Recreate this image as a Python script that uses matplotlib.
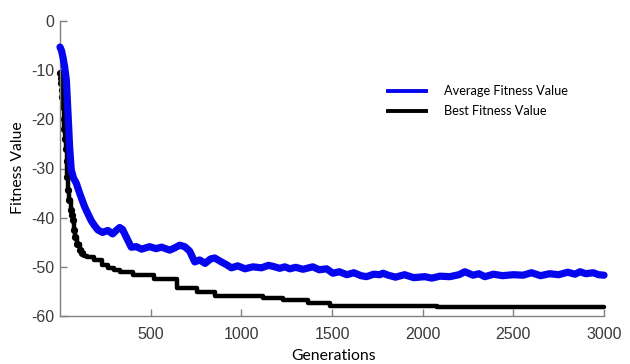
import matplotlib
matplotlib.use("Agg")
import matplotlib.pyplot as plt

# ---- data ----
avg_gen = [0, 8, 16, 25, 35, 44, 53, 62, 75, 90, 110, 136, 155, 172, 190, 209, 235, 264, 290, 310,
           329, 345, 366, 393, 421, 450, 494, 530, 560, 605, 630, 660, 688, 715, 743, 770, 800, 830,
           853, 890, 920, 945, 980, 1020, 1064, 1111, 1150, 1174, 1212, 1240, 1267, 1300, 1340,
           1394, 1430, 1470, 1505, 1540, 1582, 1620, 1660, 1690, 1730, 1764, 1781, 1810, 1850,
           1900, 1950, 2012, 2050, 2095, 2150, 2200, 2233, 2278, 2310, 2343, 2390, 2440, 2500,
           2554, 2600, 2650, 2700, 2750, 2800, 2840, 2868, 2900, 2940, 2970, 3000]
avg_val = [-5.3, -6.0, -7.3, -9.2, -12.0, -18.7, -25.6, -30.3, -32.0, -33.0, -35.2, -37.8, -39.3,
           -40.6, -41.6, -42.5, -43.0, -42.6, -43.3, -42.6, -42.0, -42.4, -44.0, -46.0, -45.9,
           -46.4, -45.9, -46.3, -46.0, -46.6, -46.2, -45.6, -45.9, -46.8, -49.0, -48.6, -49.3,
           -48.4, -48.2, -49.0, -49.6, -50.2, -49.8, -50.4, -50.0, -50.2, -49.7, -49.9, -50.3,
           -50.0, -50.4, -50.1, -50.5, -50.0, -50.6, -50.4, -51.3, -51.0, -51.6, -51.2, -51.8,
           -52.0, -51.5, -51.6, -51.3, -51.7, -52.1, -51.6, -52.2, -52.0, -52.3, -51.9, -52.0,
           -51.6, -51.0, -51.7, -51.4, -52.0, -51.5, -51.8, -51.6, -51.7, -51.2, -51.8, -51.4,
           -51.6, -51.1, -51.5, -51.0, -51.4, -51.2, -51.6, -51.7]

best_gen = [0, 3, 6, 9, 12, 16, 20, 24, 28, 32, 36, 40, 44, 50, 58, 64, 70, 78, 85, 95, 110, 120,
            135, 150, 185, 230, 265, 300, 330, 400, 520, 645, 754, 853, 1118, 1228, 1367, 1488,
            2078, 3000]
best_val = [-10.6, -11.5, -12.6, -14.0, -15.5, -17.5, -20.0, -22.0, -24.0, -26.0, -28.5, -31.7,
            -34.4, -36.5, -38.4, -39.5, -40.5, -42.5, -43.9, -45.3, -46.6, -47.2, -47.8, -48.1,
            -48.6, -49.6, -50.3, -50.6, -51.0, -51.7, -52.5, -54.4, -55.1, -55.9, -56.4, -56.8,
            -57.3, -57.9, -58.2, -58.2]

x_ticks = [500, 1000, 1500, 2000, 2500, 3000]
y_ticks = [0, -10, -20, -30, -40, -50, -60]

plt.rcParams['axes.unicode_minus'] = False

fig = plt.figure(figsize=(6.3, 3.64), dpi=100)
ax = fig.add_axes([60/630, 1-316/364, (604-60)/630, (316-21)/364])

blue = '#0606ee'
ax.plot(avg_gen, avg_val, color=blue, lw=5.2, solid_joinstyle='round',
        solid_capstyle='round', clip_on=False, zorder=3)
ax.step(best_gen, best_val, where='post', color='black', lw=3.2, clip_on=False, zorder=2,
        solid_capstyle='round')
n_dots = 22
ax.plot(best_gen[:n_dots], best_val[:n_dots], 'o', color='black', ms=4.2, clip_on=False, zorder=2)

ax.set_xlim(0, 3000)
ax.set_ylim(-60, 0)
ax.set_xticks(x_ticks)
ax.set_yticks(y_ticks)
ax.set_xticklabels([str(v) for v in x_ticks])
ax.set_yticklabels([str(v) for v in y_ticks])

for s in ['top', 'right']:
    ax.spines[s].set_visible(False)
for s in ['left', 'bottom']:
    ax.spines[s].set_color('#808080')
    ax.spines[s].set_linewidth(1.0)
ax.tick_params(direction='in', length=5, width=1, color='#808080', labelcolor='#3a3a3a',
               labelsize=11.5)
for lab in ax.get_xticklabels() + ax.get_yticklabels():
    lab.set_family('Liberation Sans')
ax.tick_params(axis='x', pad=8)
ax.tick_params(axis='y', pad=4)

fig.text(18/630, 1-168/364, 'Fitness Value', family='Lato', fontsize=11.3, rotation=90,
         ha='center', va='center', color='black')
fig.text(334/630, 1-356/364, 'Generations', family='Lato', fontsize=11.3,
         ha='center', va='center', color='black')

# legend (manual, no frame)
fig.lines.append(plt.Line2D([388/630, 426/630], [1-90.7/364]*2, color=blue, lw=2.8,
                            transform=fig.transFigure))
fig.lines.append(plt.Line2D([388/630, 426/630], [1-110.7/364]*2, color='black', lw=2.8,
                            transform=fig.transFigure))
fig.text(444/630, 1-90.7/364, 'Average Fitness Value', family='Lato', fontsize=9.2,
         va='center', ha='left')
fig.text(444/630, 1-110.7/364, 'Best Fitness Value', family='Lato', fontsize=9.2,
         va='center', ha='left')

fig.savefig('out.png', dpi=100)
